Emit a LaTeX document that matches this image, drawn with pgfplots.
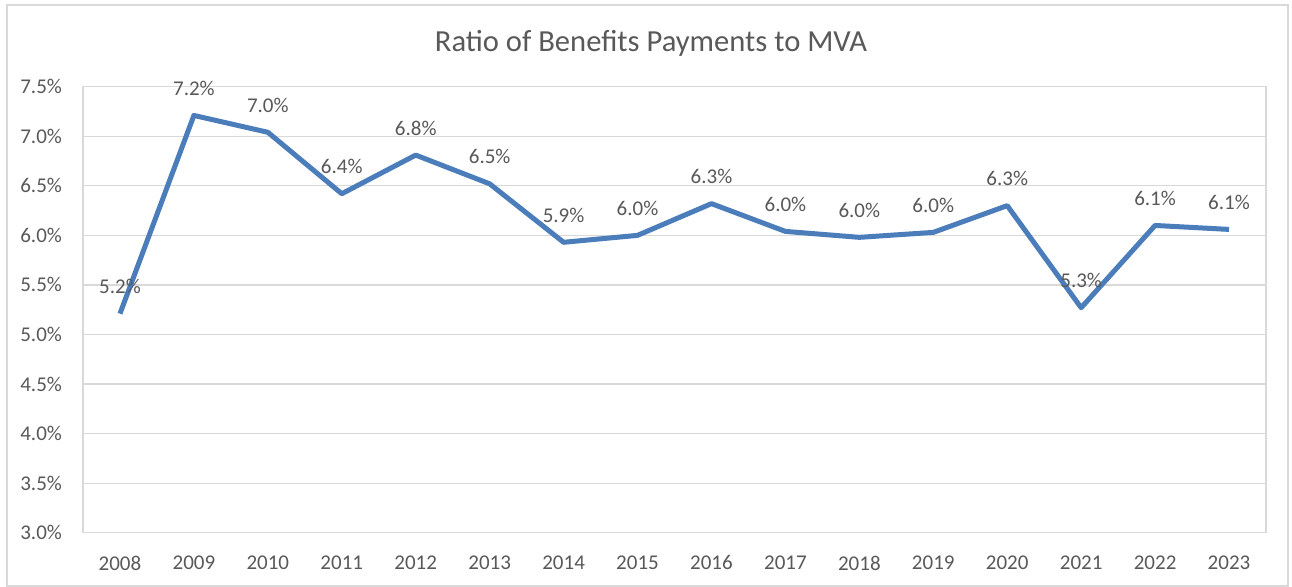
\documentclass[border=0pt]{standalone}
\usepackage{pgfplots}
\pgfplotsset{compat=1.18}
\usepackage{fontspec}
\setmainfont{Carlito}
\definecolor{linec}{HTML}{4A7DBA}
\definecolor{gridc}{HTML}{D9D9D9}
\definecolor{txtc}{HTML}{595959}
\begin{document}
\begin{tikzpicture}
\path[use as bounding box] (0,0) rectangle (646pt,293.5pt);
\fill[white] (0,0) rectangle (646pt,293.5pt);
\draw[gridc, line width=0.6pt] (3.5pt,0.5pt) rectangle (644pt,291pt);
\node[text=txtc, font=\fontsize{15.3}{17}\selectfont] at (325.5pt,272pt) {Ratio of Benefits Payments to MVA};
\begin{axis}[
  at={(41.5pt,27.15pt)}, anchor=south west,
  scale only axis, width=591.5pt, height=223pt,
  xmin=-0.5, xmax=15.5, ymin=3.0, ymax=7.5,
  xtick={0,...,15},
  xticklabels={2008,2009,2010,2011,2012,2013,2014,2015,2016,2017,2018,2019,2020,2021,2022,2023},
  ytick={3.0,3.5,...,7.5},
  yticklabel={\pgfmathprintnumber[fixed,fixed zerofill,precision=1]{\tick}\%},
  /pgf/number format/assume math mode=true,
  major tick length=0pt,
  ymajorgrids, grid style={gridc, line width=0.6pt},
  axis line style={gridc, line width=0.6pt},
  tick label style={text=txtc, font=\fontsize{10.5}{12}\selectfont},
  yticklabel style={xshift=-7pt},
  xticklabel style={yshift=-8pt},
  nodes near coords={\pgfmathprintnumber[fixed,fixed zerofill,precision=1,assume math mode=true]{\pgfplotspointmeta}\%},
  every node near coord/.append style={anchor=center, yshift=13.5pt, text=txtc, font=\fontsize{10.5}{12}\selectfont},
  clip=false,
]
\addplot[linec, line width=2.5pt, line join=round, mark=none] coordinates {
(0,5.21) (1,7.21) (2,7.04) (3,6.42) (4,6.81) (5,6.52) (6,5.93) (7,6.00)
(8,6.32) (9,6.04) (10,5.98) (11,6.03) (12,6.30) (13,5.27) (14,6.10) (15,6.06)
};
\end{axis}
\end{tikzpicture}
\end{document}
